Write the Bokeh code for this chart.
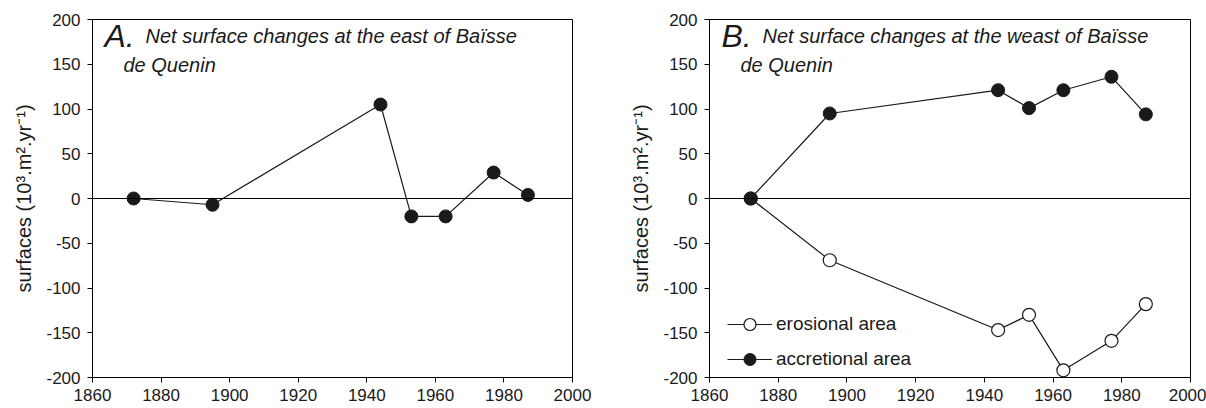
from bokeh.plotting import figure
from bokeh.layouts import row
from bokeh.models import Range1d, FixedTicker, Span, Label, Legend, LegendItem
from bokeh.embed import file_html
from bokeh.resources import INLINE

years = [1872, 1895, 1944, 1953, 1963, 1977, 1987]
east_net = [0, -7, 105, -20, -20, 29, 4]
west_erosional = [0, -69, -147, -130, -192, -159, -118]
west_accretional = [0, 95, 121, 101, 121, 136, 94]

x_ticks = [1860, 1880, 1900, 1920, 1940, 1960, 1980, 2000]
y_ticks = [-200, -150, -100, -50, 0, 50, 100, 150, 200]
ylabel = "surfaces (10³.m².yr⁻¹)"
FONT = "Liberation Sans"
INK = "#1a1a1a"


def make_fig(width, bl, br):
    p = figure(width=width, height=408, output_backend="svg", toolbar_location=None,
               x_range=Range1d(1860, 2000), y_range=Range1d(-200, 200),
               min_border_left=bl, min_border_right=br, min_border_top=19, min_border_bottom=31)
    p.xgrid.visible = False
    p.ygrid.visible = False
    p.outline_line_color = "black"
    p.outline_line_width = 1
    p.background_fill_color = "white"
    p.border_fill_color = "white"
    p.xaxis.ticker = FixedTicker(ticks=x_ticks)
    p.yaxis.ticker = FixedTicker(ticks=y_ticks)
    p.yaxis.major_label_overrides = {t: str(t) for t in y_ticks}
    p.xaxis.major_label_overrides = {t: str(t) for t in x_ticks}
    for ax in (p.xaxis, p.yaxis):
        ax.major_tick_in = 0
        ax.major_tick_out = 5
        ax.minor_tick_in = 0
        ax.minor_tick_out = 0
        ax.axis_line_color = "black"
        ax.major_tick_line_color = "black"
        ax.major_label_text_font = FONT
        ax.major_label_text_font_size = "17px"
        ax.major_label_text_color = INK
    p.yaxis.major_label_standoff = 7
    p.xaxis.major_label_standoff = 6
    p.yaxis.axis_label = ylabel
    p.yaxis.axis_label_text_font = FONT
    p.yaxis.axis_label_text_font_size = "20px"
    p.yaxis.axis_label_text_font_style = "normal"
    p.yaxis.axis_label_text_color = INK
    p.yaxis.axis_label_standoff = 8
    p.add_layout(Span(location=0, dimension="width", line_color="black", line_width=1))
    return p


def add_title(p, letter, text, xl, xt, xq):
    p.add_layout(Label(x=xl, y=342, x_units="screen", y_units="screen", text=letter,
                       text_font=FONT, text_font_size="32px", text_font_style="italic",
                       text_color=INK, text_baseline="alphabetic"))
    p.add_layout(Label(x=xt, y=342, x_units="screen", y_units="screen", text=text,
                       text_font=FONT, text_font_size="20px", text_font_style="italic",
                       text_color=INK, text_baseline="alphabetic"))
    p.add_layout(Label(x=xq, y=313, x_units="screen", y_units="screen", text="de Quenin",
                       text_font=FONT, text_font_size="20px", text_font_style="italic",
                       text_color=INK, text_baseline="alphabetic"))


pA = make_fig(600, 92, 28)
pA.line(years, east_net, line_color=INK, line_width=1.2)
pA.scatter(years, east_net, size=13, fill_color=INK, line_color=INK)
add_title(pA, "A.", "Net surface changes at the east of Baïsse", 12, 53, 31)

pB = make_fig(606, 109, 16)
le = pB.line(years, west_erosional, line_color=INK, line_width=1.2)
se = pB.scatter(years, west_erosional, size=13, fill_color="white", line_color=INK, line_width=1.2)
la = pB.line(years, west_accretional, line_color=INK, line_width=1.2)
sa = pB.scatter(years, west_accretional, size=13, fill_color=INK, line_color=INK)
add_title(pB, "B.", "Net surface changes at the weast of Baïsse", 12, 53, 31)

legend = Legend(items=[LegendItem(label="erosional area", renderers=[le, se]),
                       LegendItem(label="accretional area", renderers=[la, sa])],
                location=(18, 3), padding=0, margin=0, spacing=5,
                glyph_width=45, glyph_height=30, label_height=30,
                label_text_font=FONT, label_text_font_size="19px", label_text_color=INK,
                label_standoff=4, background_fill_alpha=0, border_line_alpha=0)
pB.add_layout(legend)

layout = row(pA, pB)
open("out.html", "w").write(file_html(layout, INLINE))
